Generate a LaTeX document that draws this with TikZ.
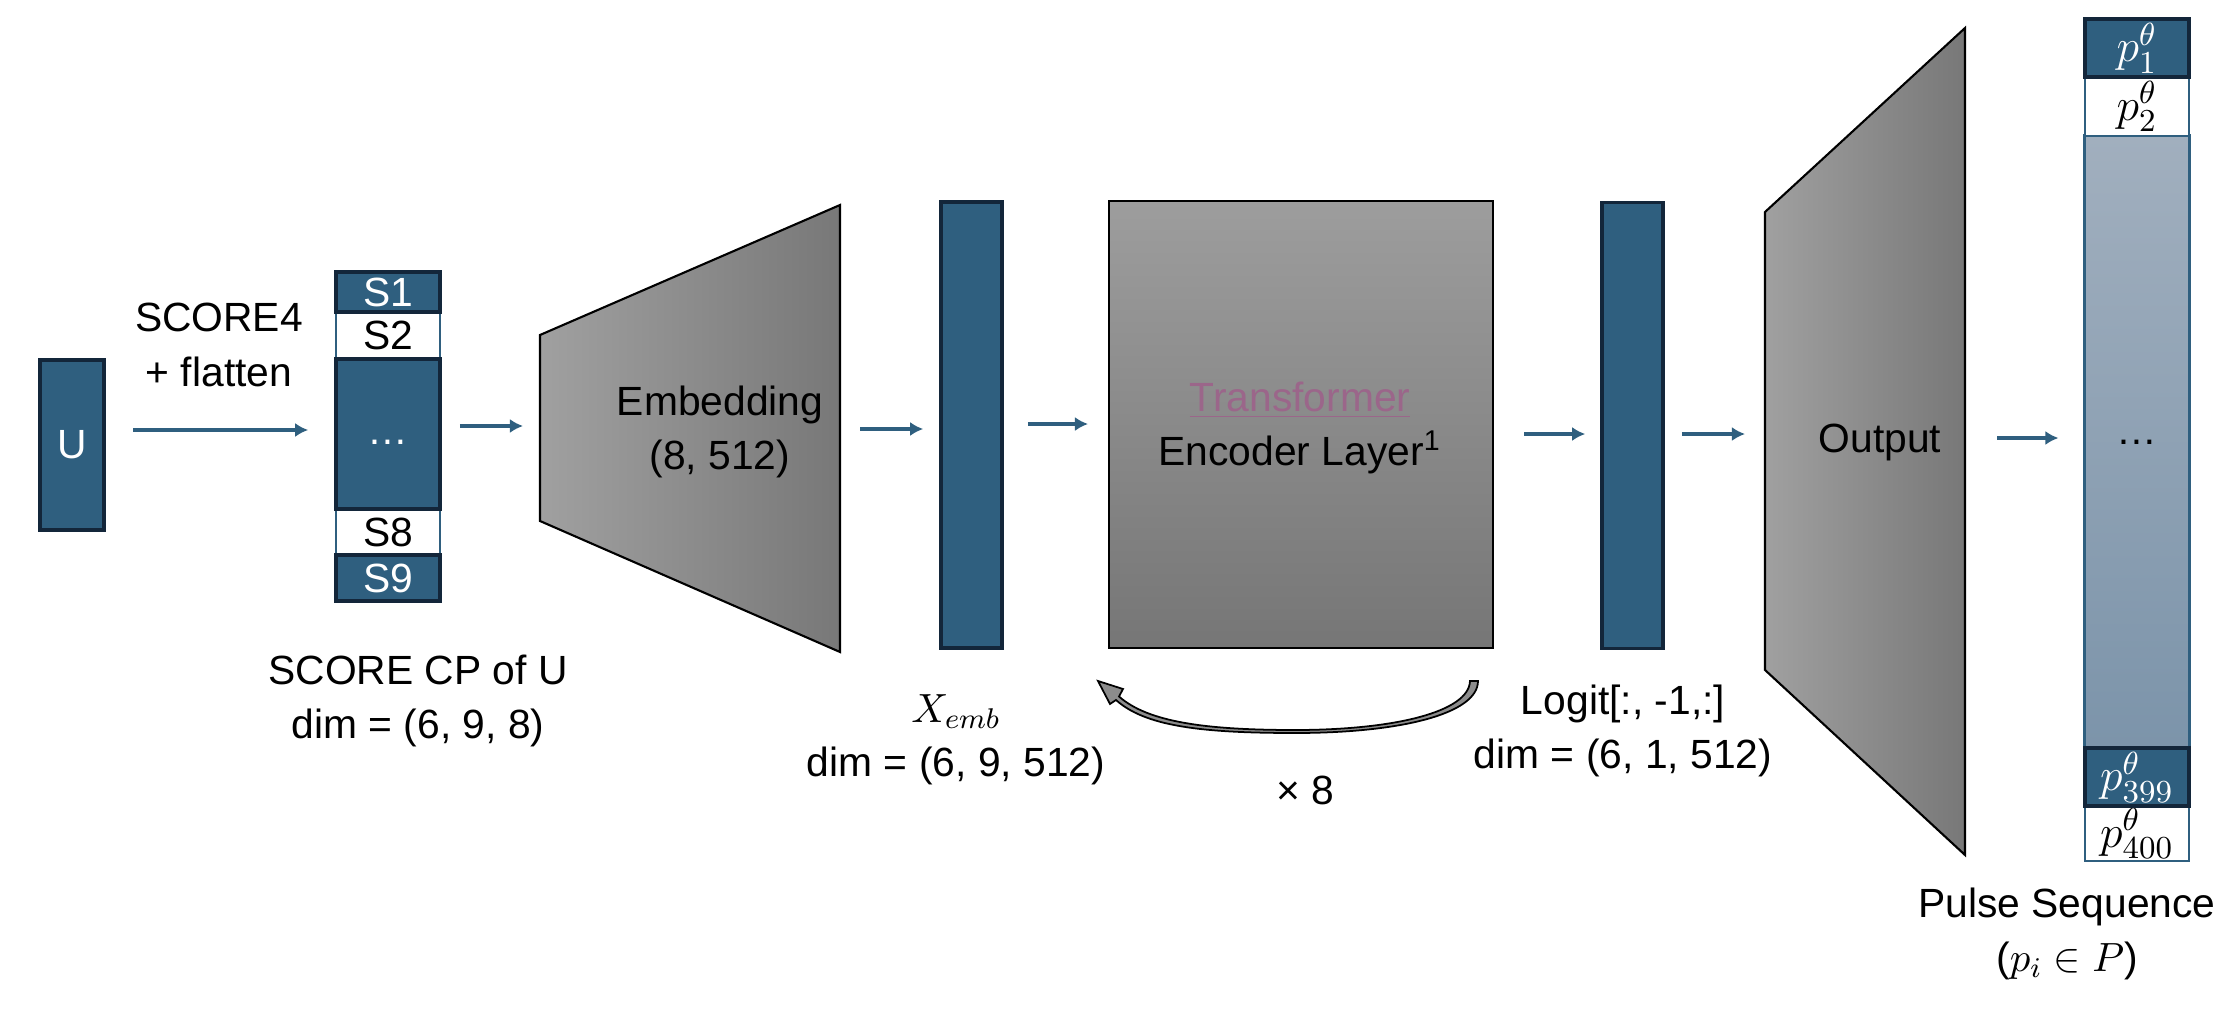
\RequirePackage{fix-cm}
\documentclass[tikz,border=0pt]{standalone}
\usepackage{fontspec}
\setmainfont{Liberation Sans}
\usetikzlibrary{positioning}
\usetikzlibrary{arrows.meta}
\definecolor{blu}{RGB}{47,95,127}
\definecolor{notte}{RGB}{19,38,58}
\definecolor{grigioL}{RGB}{160,160,160}
\definecolor{grigioR}{RGB}{120,120,120}
\definecolor{grigioT}{RGB}{157,157,157}
\definecolor{grigioB}{RGB}{118,118,118}
\definecolor{grigioM}{RGB}{140,140,140}
\definecolor{celesteA}{RGB}{161,175,190}
\definecolor{celesteB}{RGB}{124,148,170}
\definecolor{malva}{RGB}{155,102,138}

\begin{document}
\begin{tikzpicture}[x=0.01cm,y=-0.01cm,align=center,
font=\fontsize{11.6}{15.4}\selectfont,
dark/.style={draw=notte,fill=blu,line width=1pt,text=white,inner sep=0pt,minimum width=1.04cm},
light/.style={draw=blu,fill=white,line width=0.8pt,inner sep=0pt,minimum width=1.04cm},
bar/.style={draw=notte,fill=blu,line width=1pt,minimum width=0.61cm,minimum height=4.46cm},
funnel/.style={draw=black,line width=0.6pt,left color=grigioL,right color=grigioR},
cellp/.style={font=\fontsize{13}{15}\selectfont},
flow/.style={draw=blu,line width=1.1pt,-{Latex[length=3.7pt,width=4pt]}},
loopback/.style={draw=black,line width=0.5pt,fill=grigioM}
]
\useasboundingbox (0,0) rectangle (2232,1012);
%--
\node[dark,minimum width=0.64cm,minimum height=1.7cm,line width=1.15pt](u) at (72,445){U};
\node(tscore) at (219,345){SCORE4\\+ flatten};
%--
\node[light,minimum height=0.47cm](s2) at (388,335.5){S2};
\node[light,minimum height=0.46cm](s8) at (388,532){S8};
\node[dark,minimum height=0.40cm](s1) at (388,292){S1};
\node[dark,minimum height=1.50cm](sm) at (388,434){\strut …};
\node[dark,minimum height=0.46cm](s9) at (388,578){S9};
\node(tcp) at (418,701){SCORE CP of U\\dim = (6, 9, 8)};
\draw[flow,shorten <=0.27cm,shorten >=0.26cm] (u.east |- 0,430) -- (sm.west |- 0,430);
%--
\path[funnel] (540,335) -- (840,205) -- (840,652) -- (540,521) -- cycle;
\coordinate (embL) at (540,428);
\coordinate (embR) at (840,428);
\node(emb) at (720,432){Embedding\\(8, 512)};
\draw[flow,shorten <=0.18cm,shorten >=0.17cm] (sm.east |- 0,426) -- (embL |- 0,426);
%--
\node[bar](xemb) at (971.5,425){};
\node(txemb) at (956,740){$X_{emb}$\\dim = (6, 9, 512)};
\draw[flow,shorten <=0.2cm,shorten >=0.16cm] (embR |- 0,429) -- (xemb.west |- 0,429);
%--
\node[draw=black,line width=0.5pt,top color=grigioT,bottom color=grigioB,minimum width=3.84cm,minimum height=4.47cm](enc) at (1301,424.5){};
\node(tenc) at (1300,428){{\color{malva}\underline{Transformer}}\\Encoder Layer\textsuperscript{1}};
\draw[flow,shorten <=0.24cm,shorten >=0.2cm] (xemb.east |- 0,424) -- (enc.west |- 0,424);
\path[loopback] (1478,681) .. controls (1478,714) and (1400,733) .. (1295,733)
  .. controls (1200,733) and (1145,726) .. (1116,700)
  -- (1110,704) -- (1098,681) -- (1123,689) -- (1119,696.5)
  .. controls (1148,722) and (1205,730) .. (1295,730)
  .. controls (1394,730) and (1469,712) .. (1470,681) -- cycle;
\node(tloop) at (1305,790){× 8};
%--
\node[bar](logit) at (1632.5,425.5){};
\node(tlogit) at (1623,731){Logit[:, -1,:]\\dim = (6, 1, 512)};
\draw[flow,shorten <=0.3cm,shorten >=0.15cm] (enc.east |- 0,434) -- (logit.west |- 0,434);
%--
\path[funnel] (1765,212) -- (1965,28) -- (1965,855) -- (1765,670) -- cycle;
\coordinate (outL) at (1765,441);
\coordinate (outR) at (1965,441);
\node(out) at (1880,442){Output};
\draw[flow,shorten <=0.17cm,shorten >=0.2cm] (logit.east |- 0,434) -- (outL |- 0,434);
%--
\node[draw=blu,line width=0.85pt,top color=celesteA,bottom color=celesteB,minimum width=1.04cm,minimum height=6.12cm](pm) at (2137,442){};
\node at (pm.center){…};
\node[light,cellp,minimum height=0.59cm](p2) at (2137,106.5){$p_{2}^{\theta}$};
\node[dark,cellp,minimum height=0.58cm](p1) at (2137,48){$p_{1}^{\theta}$};
\node[light,cellp,minimum height=0.55cm](p400) at (2137,833.5){$p_{400}^{\theta}$};
\node[dark,cellp,minimum height=0.58cm](p399) at (2137,777){$p_{399}^{\theta}$};
\node(tpulse) at (2067,934){Pulse Sequence\\($p_i \in P$)};
\draw[flow,shorten <=0.32cm,shorten >=0.25cm] (outR |- 0,438) -- (pm.west |- 0,438);
\end{tikzpicture}
\end{document}
